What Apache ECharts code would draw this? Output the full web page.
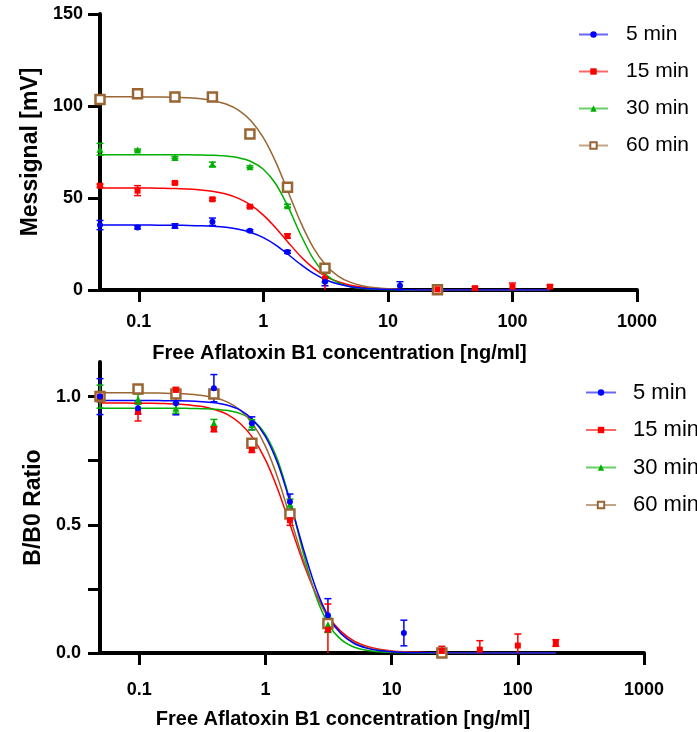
<!DOCTYPE html>
<html>
<head>
<meta charset="utf-8">
<script src="https://cdn.jsdelivr.net/npm/echarts@6/dist/echarts.min.js"></script>
<style>
  html, body { margin: 0; padding: 0; background: #fff; }
  #chart { width: 697px; height: 732px; }
</style>
</head>
<body>
<div id="chart"></div>
<script>
// concentrations of the measured points [ng/ml]
const concentrations = [0.0488, 0.0977, 0.195, 0.39, 0.78, 1.5625, 3.125, 12.5, 25, 50, 100, 200];

// top panel: Messignal [mV], mean and error
const signal5 = [35.3, 34.0, 34.8, 37.1, 32.2, 20.7, 4.5, 2.3, null, null, null, null];
const signal5Err = [2.5, 0.8, 1.2, 2.0, 0.6, 0.8, 2.2, 2.2, null, null, null, null];
const signal15 = [56.7, 54.0, 58.2, 49.3, 45.3, 29.3, 6.0, null, 0.3, 1.0, 1.8, 1.8];
const signal15Err = [0.8, 2.7, 0.6, 0.6, 0.6, 1.2, 7.0, null, 0.6, 0.8, 2.0, 0.8];
const signal30 = [76.5, 76.1, 72.0, 68.3, 67.0, 45.8, 5.5, null, null, null, null, null];
const signal30Err = [3.2, 0.5, 0.5, 1.2, 0.5, 0.8, 1.0, null, null, null, null, null];
const signal60 = [103.6, 106.7, 104.9, 104.9, 84.8, 55.8, 11.8, null, 0.2, null, null, null];
const signal60Err = [0, 0, 0, 0, 0, 0, 0, null, 0, null, null, null];

// bottom panel: B/B0 ratio, mean and error
const ratio5 = [1.0, 0.955, 0.974, 1.033, 0.896, 0.59, 0.147, 0.078, null, null, null, null];
const ratio5Err = [0.07, 0.023, 0.045, 0.053, 0.025, 0.03, 0.065, 0.05, null, null, null, null];
const ratio15 = [1.0, 0.94, 1.026, 0.873, 0.792, 0.518, 0.091, null, 0.008, 0.013, 0.029, 0.039];
const ratio15Err = [0.02, 0.035, 0.01, 0.01, 0.01, 0.02, 0.1, null, 0.018, 0.035, 0.045, 0.013];
const ratio30 = [1.0, 0.99, 0.955, 0.896, 0.89, 0.58, 0.11, null, null, null, null, null];
const ratio30Err = [0.045, 0.02, 0.02, 0.015, 0.02, 0.02, 0.03, null, null, null, null, null];
const ratio60 = [1.0, 1.03, 1.01, 1.01, 0.818, 0.542, 0.115, null, 0.0, null, null, null];
const ratio60Err = [0, 0, 0, 0, 0, 0, 0, null, 0, null, null, null];

// fitted curves (x in 0.1 decade steps)
const fitX = [0.0488, 0.0631, 0.0794, 0.1, 0.1259, 0.1585, 0.1995, 0.2512, 0.3162, 0.3981, 0.5012, 0.631, 0.7943, 1,
  1.259, 1.585, 1.995, 2.512, 3.162, 3.981, 5.012, 6.31, 7.943, 10, 12.59, 15.85, 19.95, 200];
const fitSignal5 = [35.3, 35.3, 35.29, 35.28, 35.27, 35.24, 35.19, 35.10, 34.93, 34.61, 34.04, 33.03, 31.29, 28.50,
  24.45, 19.31, 13.89, 9.12, 5.57, 3.22, 1.81, 0.99, 0.54, 0.29, 0.16, 0.085, 0.046, 0];
const fitSignal15 = [55.5, 55.49, 55.47, 55.44, 55.39, 55.30, 55.14, 54.87, 54.39, 53.56, 52.14, 49.80, 46.10, 40.72,
  33.74, 25.83, 18.24, 11.99, 7.45, 4.45, 2.59, 1.49, 0.85, 0.48, 0.27, 0.15, 0.086, 0];
const fitSignal30 = [73.5, 73.5, 73.5, 73.5, 73.49, 73.49, 73.47, 73.44, 73.36, 73.18, 72.77, 71.85, 69.83, 65.60,
  57.60, 45.01, 30.01, 17.03, 8.56, 3.99, 1.80, 0.80, 0.35, 0.15, 0.067, 0.029, 0.013, 0];
const fitSignal60 = [105, 105, 104.98, 104.96, 104.92, 104.84, 104.69, 104.42, 103.89, 102.91, 101.09, 97.78, 92.03, 82.81,
  69.49, 53.16, 36.75, 23.15, 13.58, 7.58, 4.12, 2.21, 1.17, 0.62, 0.32, 0.17, 0.09, 0];
const fitRatio5 = [0.985, 0.985, 0.985, 0.985, 0.985, 0.984, 0.984, 0.983, 0.980, 0.976, 0.966, 0.947, 0.910, 0.844,
  0.735, 0.580, 0.407, 0.252, 0.142, 0.075, 0.038, 0.019, 0.0095, 0.0047, 0.0023, 0.0011, 0.0005, 0];
const fitRatio15 = [0.975, 0.975, 0.975, 0.974, 0.974, 0.973, 0.971, 0.967, 0.961, 0.949, 0.930, 0.895, 0.839, 0.753,
  0.635, 0.493, 0.351, 0.230, 0.142, 0.0833, 0.0476, 0.0268, 0.0149, 0.0082, 0.0045, 0.0025, 0.0014, 0];
const fitRatio30 = [0.955, 0.955, 0.955, 0.955, 0.955, 0.955, 0.955, 0.954, 0.953, 0.951, 0.9455, 0.9336, 0.9073, 0.852,
  0.748, 0.585, 0.390, 0.221, 0.111, 0.052, 0.0234, 0.0104, 0.0046, 0.002, 0.0009, 0.0004, 0.0002, 0];
const fitRatio60 = [1.015, 1.015, 1.015, 1.0146, 1.0142, 1.0135, 1.0121, 1.0095, 1.0047, 0.9954, 0.9784, 0.9474, 0.8934, 0.806,
  0.679, 0.522, 0.363, 0.230, 0.135, 0.0756, 0.0411, 0.0220, 0.0117, 0.0062, 0.0033, 0.0017, 0.0009, 0];

// axis ticks and labels
const xTicks = [0.1, 1, 10, 100, 1000];
const ratioTicks = [0, 0.25, 0.5, 0.75, 1.0];
const ratioLabels = [0, 0.5, 1.0];
const groupNames = ['5 min', '15 min', '30 min', '60 min'];

const FONT = '"Liberation Sans", Arial, sans-serif';
const COLORS = {
  '5 min': '#0000ff',
  '15 min': '#ff0000',
  '30 min': '#00b000',
  '60 min': '#996633',
};
const SYMBOLS = {
  '5 min': { symbol: 'circle', size: 6 },
  '15 min': { symbol: 'rect', size: 6 },
  '30 min': { symbol: 'triangle', size: 7 },
  '60 min': { symbol: 'emptyRect', size: 9 },
};

const chart = echarts.init(document.getElementById('chart'), null, { renderer: 'canvas' });

// 곡선
function curveSeries(name, axisIndex, ys, z) {
  return {
    name,
    type: 'line',
    xAxisIndex: axisIndex,
    yAxisIndex: axisIndex,
    data: fitX.map((x, i) => [x, ys[i]]),
    symbol: SYMBOLS[name].symbol,
    showSymbol: false,
    smooth: 0.3,
    lineStyle: { color: COLORS[name], width: 1.5 },
    itemStyle: { color: COLORS[name] },
    z,
    silent: true,
  };
}

// 측정점
function pointSeries(name, axisIndex, values) {
  const data = [];
  concentrations.forEach((c, i) => {
    if (values[i] != null) data.push([c, values[i]]);
  });
  const hollow = SYMBOLS[name].symbol === 'emptyRect';
  return {
    name,
    type: 'scatter',
    xAxisIndex: axisIndex,
    yAxisIndex: axisIndex,
    data,
    symbol: hollow ? 'rect' : SYMBOLS[name].symbol,
    symbolSize: SYMBOLS[name].size,
    itemStyle: hollow
      ? { color: '#fff', borderColor: COLORS[name], borderWidth: 2.5, opacity: 1 }
      : { color: COLORS[name], opacity: 1 },
    z: 6,
    silent: true,
  };
}

// 오차 막대
function errorSeries(name, axisIndex, values, errs) {
  const data = [];
  concentrations.forEach((c, i) => {
    if (values[i] != null && errs[i]) data.push([c, values[i], errs[i]]);
  });
  const color = COLORS[name];
  return {
    name,
    type: 'custom',
    xAxisIndex: axisIndex,
    yAxisIndex: axisIndex,
    data,
    encode: { x: 0, y: 1 },
    z: 5,
    silent: true,
    renderItem: (params, api) => {
      const x = api.value(0);
      const y = api.value(1);
      const e = api.value(2);
      const hi = api.coord([x, y + e]);
      const lo = api.coord([x, Math.max(y - e, 0)]);
      const w = 3.5;
      const style = { stroke: color, lineWidth: 1.5 };
      const children = [
        { type: 'line', shape: { x1: hi[0], y1: hi[1], x2: lo[0], y2: lo[1] }, style },
        { type: 'line', shape: { x1: hi[0] - w, y1: hi[1], x2: hi[0] + w, y2: hi[1] }, style },
      ];
      if (y - e > 0) {
        children.push({ type: 'line', shape: { x1: lo[0] - w, y1: lo[1], x2: lo[0] + w, y2: lo[1] }, style });
      }
      return { type: 'group', children };
    },
  };
}

function xAxisFor(gridIndex) {
  return {
    type: 'log',
    logBase: 10,
    gridIndex,
    min: 0.0488,
    max: 1000,
    name: 'Free Aflatoxin B1 concentration [ng/ml]',
    nameLocation: 'middle',
    nameGap: gridIndex === 0 ? 53 : 56,
    nameTextStyle: {
      fontFamily: FONT,
      fontSize: 20,
      fontWeight: 'bold',
      color: '#000',
      padding: [0, 58, 0, 0],
    },
    axisLine: { show: true, onZero: false, lineStyle: { color: '#000', width: 4 } },
    axisTick: { show: true, length: 12, customValues: xTicks, lineStyle: { color: '#000', width: 3 } },
    axisLabel: {
      customValues: xTicks,
      formatter: (v) => String(v),
      fontFamily: FONT,
      fontSize: 18,
      fontWeight: 'bold',
      color: '#000',
      margin: gridIndex === 0 ? 23 : 28,
    },
    splitLine: { show: false },
  };
}

const yLabelStyle = {
  fontFamily: FONT,
  fontSize: 18,
  fontWeight: 'bold',
  color: '#000',
};

const option = {
  animation: false,
  backgroundColor: '#fff',
  grid: [
    { left: 100, top: 14, width: 537, height: 276 },
    { left: 100, top: 362, width: 544, height: 291 },
  ],
  xAxis: [xAxisFor(0), xAxisFor(1)],
  yAxis: [
    {
      type: 'value',
      gridIndex: 0,
      min: 0,
      max: 150,
      interval: 50,
      name: 'Messignal [mV]',
      nameLocation: 'middle',
      nameGap: 54,
      nameTextStyle: { fontFamily: FONT, fontSize: 23, fontWeight: 'bold', color: '#000' },
      axisLine: { show: true, onZero: false, lineStyle: { color: '#000', width: 4 } },
      axisTick: { show: true, length: 12, lineStyle: { color: '#000', width: 3 } },
      axisLabel: { ...yLabelStyle, margin: 17 },
      splitLine: { show: false },
    },
    {
      type: 'value',
      gridIndex: 1,
      min: 0,
      max: 1.135,
      name: 'B/B0 Ratio',
      nameLocation: 'middle',
      nameGap: 54,
      nameTextStyle: { fontFamily: FONT, fontSize: 23, fontWeight: 'bold', color: '#000' },
      axisLine: { show: true, onZero: false, lineStyle: { color: '#000', width: 4 } },
      axisTick: { show: true, length: 12, customValues: ratioTicks, lineStyle: { color: '#000', width: 3 } },
      axisLabel: {
        ...yLabelStyle,
        margin: 19,
        customValues: ratioLabels,
        formatter: (v) => Number(v).toFixed(1),
      },
      splitLine: { show: false },
    },
  ],
  legend: [
    {
      orient: 'vertical',
      left: 573,
      top: 17,
      itemWidth: 29,
      itemHeight: 8,
      itemGap: 12,
      data: groupNames,
      lineStyle: { opacity: 0.6 },
      textStyle: { fontFamily: FONT, fontSize: 21, lineHeight: 25, color: '#000', padding: [0, 0, 0, 13] },
      selectedMode: false,
    },
    {
      orient: 'vertical',
      left: 580,
      top: 375,
      itemWidth: 30,
      itemHeight: 8,
      itemGap: 12.5,
      data: groupNames,
      lineStyle: { opacity: 0.6 },
      textStyle: { fontFamily: FONT, fontSize: 22, lineHeight: 25, color: '#000', padding: [0, 0, 0, 12] },
      selectedMode: false,
    },
  ],
  series: [
    // top panel
    curveSeries('5 min', 0, fitSignal5, 4),
    curveSeries('15 min', 0, fitSignal15, 3),
    curveSeries('30 min', 0, fitSignal30, 3),
    curveSeries('60 min', 0, fitSignal60, 3),
    errorSeries('5 min', 0, signal5, signal5Err),
    errorSeries('15 min', 0, signal15, signal15Err),
    errorSeries('30 min', 0, signal30, signal30Err),
    errorSeries('60 min', 0, signal60, signal60Err),
    pointSeries('60 min', 0, signal60),
    pointSeries('30 min', 0, signal30),
    pointSeries('15 min', 0, signal15),
    pointSeries('5 min', 0, signal5),
    // bottom panel
    curveSeries('5 min', 1, fitRatio5, 4),
    curveSeries('15 min', 1, fitRatio15, 3),
    curveSeries('30 min', 1, fitRatio30, 3),
    curveSeries('60 min', 1, fitRatio60, 3),
    errorSeries('5 min', 1, ratio5, ratio5Err),
    errorSeries('15 min', 1, ratio15, ratio15Err),
    errorSeries('30 min', 1, ratio30, ratio30Err),
    errorSeries('60 min', 1, ratio60, ratio60Err),
    pointSeries('60 min', 1, ratio60),
    pointSeries('30 min', 1, ratio30),
    pointSeries('15 min', 1, ratio15),
    pointSeries('5 min', 1, ratio5),
  ],
};

chart.setOption(option);
</script>
</body>
</html>
